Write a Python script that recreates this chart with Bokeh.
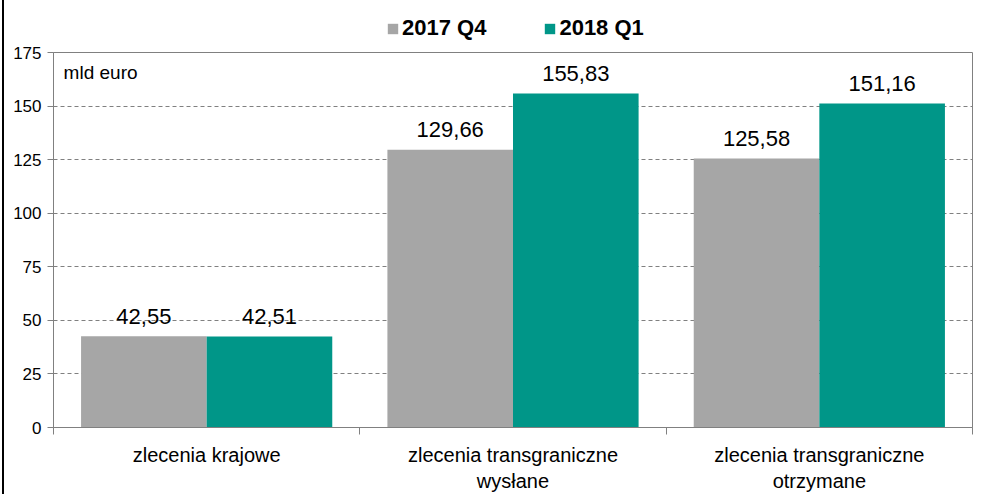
from bokeh.plotting import figure
from bokeh.models import Range1d, FixedTicker, Legend, LegendItem, Label, Div
from bokeh.layouts import row, column
from bokeh.core.properties import value
from bokeh.embed import file_html
from bokeh.resources import INLINE

categories = ["zlecenia krajowe", "zlecenia transgraniczne\nwysłane", "zlecenia transgraniczne\notrzymane"]
series_names = ["2017 Q4", "2018 Q1"]
q4_2017 = [42.55, 129.66, 125.58]
q1_2018 = [42.51, 155.83, 151.16]
y_ticks = [0, 25, 50, 75, 100, 125, 150, 175]
unit_label = "mld euro"

colors = ["#A6A6A6", "#009688"]
FONT = "Liberation Sans"
bar_w = 0.41

centers = [i + 0.5 for i in range(len(categories))]
x1 = [c - bar_w / 2 for c in centers]
x2 = [c + bar_w / 2 for c in centers]

# ---- legend strip (top) ----
t = figure(width=996, height=42, output_backend="svg", toolbar_location=None,
           x_range=Range1d(0, 3), y_range=Range1d(200, 300),
           x_axis_location=None, y_axis_location=None,
           min_border_left=0, min_border_right=0, min_border_top=0, min_border_bottom=0,
           margin=(0, 0, 0, 0))
t.outline_line_color = None
t.xgrid.grid_line_color = None
t.ygrid.grid_line_color = None
l1 = t.vbar(x=x1, top=q4_2017, width=bar_w, fill_color=colors[0], line_color=None)
l2 = t.vbar(x=x2, top=q1_2018, width=bar_w, fill_color=colors[1], line_color=None)
legend = Legend(items=[LegendItem(label=series_names[0], renderers=[l1]),
                       LegendItem(label=series_names[1], renderers=[l2])],
                orientation="horizontal", location=(333, 1),
                padding=0, margin=0, spacing=57, label_standoff=3,
                glyph_width=13, glyph_height=13, label_height=13,
                label_text_font=FONT, label_text_font_size="22px", label_text_font_style="bold",
                label_text_color="#000000",
                border_line_color=None, background_fill_alpha=0)
t.add_layout(legend)

# ---- main chart ----
p = figure(width=996, height=452, output_backend="svg", toolbar_location=None,
           x_range=Range1d(0, 3), y_range=Range1d(0, 175),
           min_border_left=49, min_border_right=28, min_border_top=10, min_border_bottom=64,
           margin=(0, 0, 0, 0))
p.outline_line_color = "#808080"
p.outline_line_width = 1

r1 = p.vbar(x=x1, top=q4_2017, width=bar_w, fill_color=colors[0], line_color=None)
r2 = p.vbar(x=x2, top=q1_2018, width=bar_w, fill_color=colors[1], line_color=None)

def fmt(v):
    return f"{v:.2f}".replace(".", ",")

for xs, vals in ((x1, q4_2017), (x2, q1_2018)):
    p.text(x=xs, y=vals, text=[fmt(v) for v in vals], text_align="center",
           text_baseline="alphabetic", y_offset=-20, text_font=value(FONT),
           text_font_size="22px", text_color="#000000")

p.yaxis.ticker = FixedTicker(ticks=y_ticks)
p.yaxis.major_label_text_font = FONT
p.yaxis.major_label_text_font_size = "17px"
p.yaxis.major_label_text_color = "#000000"
p.yaxis.axis_line_color = "#808080"
p.yaxis.major_tick_line_color = "#808080"
p.yaxis.major_tick_out = 6
p.yaxis.major_tick_in = 0
p.yaxis.minor_tick_line_color = None
p.yaxis.major_label_standoff = 6

p.xaxis.ticker = FixedTicker(ticks=centers, minor_ticks=[0, 1, 2, 3])
p.xaxis.major_label_overrides = {c: lab for c, lab in zip(centers, categories)}
p.xaxis.major_label_text_font = FONT
p.xaxis.major_label_text_font_size = "20px"
p.xaxis.major_label_text_color = "#000000"
p.xaxis.axis_line_color = "#808080"
p.xaxis.major_tick_line_color = None
p.xaxis.major_tick_out = 0
p.xaxis.major_tick_in = 0
p.xaxis.minor_tick_line_color = "#808080"
p.xaxis.minor_tick_out = 7
p.xaxis.minor_tick_in = 0
p.xaxis.major_label_standoff = 9

p.xgrid.grid_line_color = None
p.ygrid.ticker = FixedTicker(ticks=y_ticks[1:-1])
p.ygrid.grid_line_color = "#808080"
p.ygrid.grid_line_dash = "4 3"
p.ygrid.grid_line_width = 1

p.add_layout(Label(x=0.033, y=170.5, text=unit_label, text_font=FONT, text_font_size="19px",
                   text_baseline="top", text_color="#000000"))

edge = Div(width=4, height=494, margin=(0, 0, 0, 0),
           styles={"background": "linear-gradient(90deg, #ffffff 2px, #000000 2px)"})
layout = row(edge, column(t, p, spacing=0, margin=(0, 0, 0, 0)), spacing=0, margin=(0, 0, 0, 0))

open("out.html", "w").write(file_html(layout, INLINE))
